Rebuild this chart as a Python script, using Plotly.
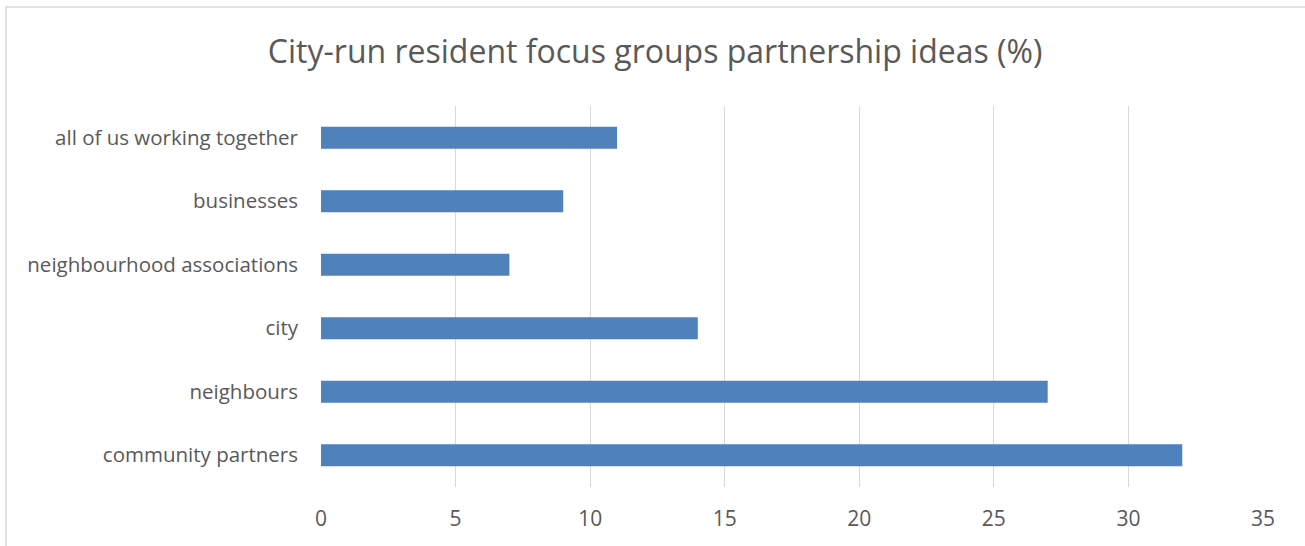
import plotly.graph_objects as go

categories = ["community partners", "neighbours", "city", "neighbourhood associations",
              "businesses", "all of us working together"]
values = [32, 27, 14, 7, 9, 11]
x_ticks = [0, 5, 10, 15, 20, 25, 30, 35]

FONT = "Open Sans"
TEXT = "#595959"

fig = go.Figure(go.Bar(
    y=categories, x=values, orientation="h",
    marker=dict(color="#4F81BD", line=dict(width=0)),
    width=0.35,
))

fig.update_layout(
    width=1305, height=546,
    margin=dict(l=321, r=42, t=106, b=59),
    paper_bgcolor="white", plot_bgcolor="white",
    showlegend=False,
    title=dict(text="City-run resident focus groups partnership ideas (%)",
               x=0.502, xanchor="center", y=0.905, yanchor="middle",
               font=dict(family=FONT, size=32, color=TEXT)),
    xaxis=dict(range=[0, 35], tickvals=x_ticks, showgrid=True, gridcolor="#D9D9D9",
               gridwidth=1.2, zeroline=False, showline=False, ticks="",
               tickfont=dict(family=FONT, size=21, color=TEXT), ticklabelstandoff=17),
    yaxis=dict(showgrid=False, zeroline=False, showline=False, ticks="",
               categoryorder="array", categoryarray=categories,
               tickfont=dict(family=FONT, size=20.5, color=TEXT), ticklabelstandoff=22),
    shapes=[dict(type="rect", xref="paper", yref="paper",
                 x0=(6 - 321) / 942, x1=1.2, y0=-0.5, y1=(487 - 7) / 381,
                 line=dict(color="#D9D9D9", width=1.5), fillcolor="rgba(0,0,0,0)",
                 layer="below")],
)

fig.write_html("out.html", config={"displayModeBar": False},
               post_script="document.body.style.margin='0';")
